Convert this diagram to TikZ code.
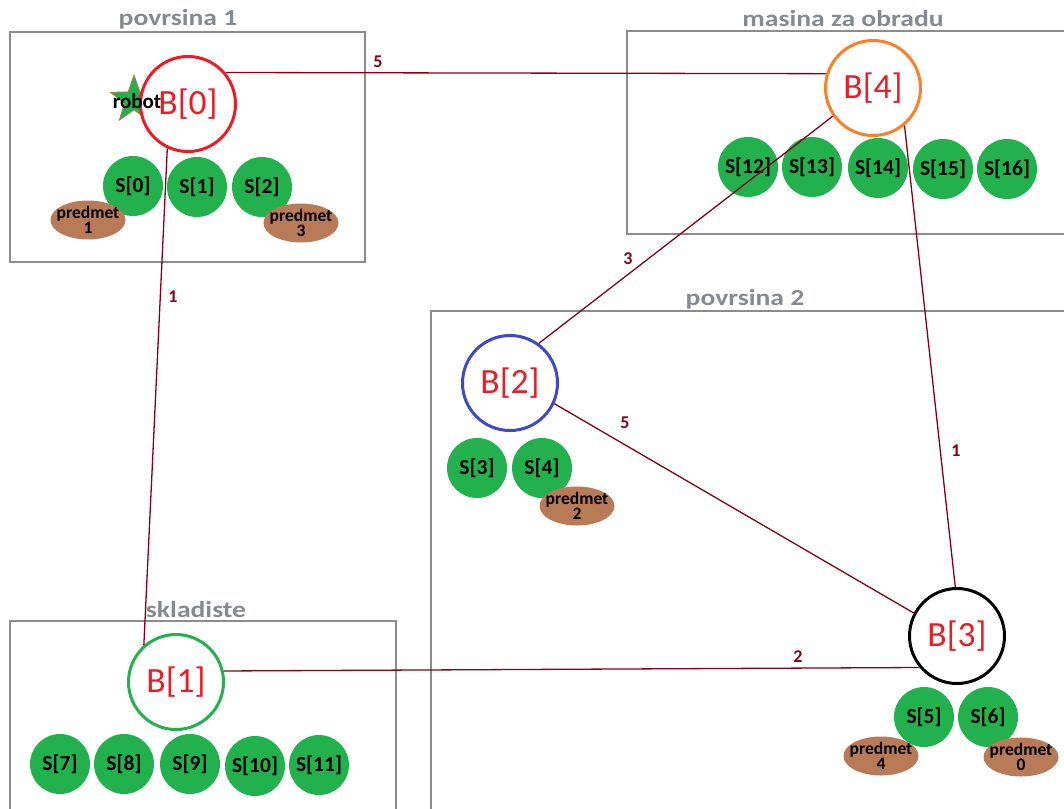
\documentclass[tikz,border=0pt]{standalone}
\usepackage{fontspec}
\setmainfont{Carlito}
\newfontfamily\titlefont[FakeStretch=1.2]{Carlito}
\usetikzlibrary{shapes.geometric}

\definecolor{slotgreen}{HTML}{22B14C}
\definecolor{itembrown}{HTML}{B97A57}
\definecolor{labelred}{HTML}{ED1C24}
\definecolor{edgered}{HTML}{880015}
\definecolor{framegray}{HTML}{8C8C8C}
\definecolor{titlegray}{HTML}{858A90}
\definecolor{borange}{HTML}{FF7F27}
\definecolor{bblue}{HTML}{3F48CC}

\tikzset{
  area/.style={draw=framegray, line width=1.4pt},
  areatitle/.style={font=\titlefont\fontsize{23}{26}\selectfont\bfseries, text=titlegray, anchor=base, inner sep=0pt},
  base/.style={circle, draw=#1, fill=white, line width=3pt, minimum size=95pt, inner sep=0pt,
               text=labelred, font=\fontsize{35.5}{38}\selectfont},
  slot/.style={circle, fill=slotgreen, minimum size=60pt, inner sep=0pt,
               font=\fontsize{21.5}{24}\selectfont\bfseries},
  item/.style={ellipse, fill=itembrown, minimum width=75pt, minimum height=39pt, inner sep=0pt},
  itemtext/.style={align=center, inner sep=0pt, font=\fontsize{17.5}{15.5}\selectfont\bfseries},
  link/.style={draw=edgered, line width=1.3pt},
  weight/.style={text=edgered, font=\fontsize{18}{20}\selectfont\bfseries, inner sep=0pt},
}

\begin{document}
\begin{tikzpicture}[x=1pt, y=-1pt]
\useasboundingbox (0,0) rectangle (1064,808);

% areas and their titles
\draw[area] (10,32) rectangle (365,262);
\draw[area] (627,31) rectangle (1075,234);
\draw[area] (431,311) rectangle (1075,820);
\draw[area] (10,621) rectangle (396,820);
\node[areatitle] (t1) at (178,26) {povrsina 1};
\node[areatitle] (t4) at (843,27) {masina za obradu};
\node[areatitle] (t2) at (745,305) {povrsina 2};
\node[areatitle] (ts) at (196,617) {skladiste};

% slots
\node[slot] (S0) at (133,186) {S[0]};
\node[slot] (S1) at (197,187) {S[1]};
\node[slot] (S2) at (262,187) {S[2]};
\node[slot] (S12) at (748,167) {S[12]};
\node[slot] (S13) at (812,167) {S[13]};
\node[slot] (S14) at (878,168) {S[14]};
\node[slot] (S15) at (943,169) {S[15]};
\node[slot] (S16) at (1007,169) {S[16]};
\node[slot] (S3) at (477,468) {S[3]};
\node[slot] (S4) at (542,468) {S[4]};
\node[slot] (S5) at (924,717) {S[5]};
\node[slot] (S6) at (988,717) {S[6]};
\node[slot] (S7) at (60,764) {S[7]};
\node[slot] (S8) at (124,764) {S[8]};
\node[slot] (S9) at (190,764) {S[9]};
\node[slot] (S10) at (255,766) {S[10]};
\node[slot] (S11) at (319,765) {S[11]};

% items lying on slots
\node[item] (P1) at (88,220) {};
\node[itemtext] (P1t) at (P1) {predmet\\1};
\node[item] (P3) at (301,223) {};
\node[itemtext] (P3t) at (P3) {predmet\\3};
\node[item] (P2) at (577,506) {};
\node[itemtext] (P2t) at (P2) {predmet\\2};
\node[item] (P4) at (881,756) {};
\node[itemtext] (P4t) at (P4) {predmet\\4};
\node[item] (P0) at (1021,757) {};
\node[itemtext] (P0t) at (P0) {predmet\\0};

% robot marker
\node[star, star points=5, star point ratio=2.5, minimum size=50pt, inner sep=0pt,
      fill=slotgreen, draw=itembrown, line width=0.8pt] (R) at (134,100) {};

% bases
\node[base=labelred] (B0) at (188,104) {B[0]};
\node[base=borange]  (B4) at (873,88)  {B[4]};
\node[base=bblue]    (B2) at (510,383) {B[2]};
\node[base=black]    (B3) at (957,636) {B[3]};
\node[base=slotgreen] (B1) at (176,682) {B[1]};

\node[font=\fontsize{21}{24}\selectfont\bfseries, inner sep=0pt] (Rl) at (137,101) {robot};

% connections between bases
\draw[link] (B0.40)  -- (B4.163);
\draw[link] (B0.245) -- (B1.131);
\draw[link] (B4.215) -- (B2.54);
\draw[link] (B4.310) -- (B3.92);
\draw[link] (B2.335) -- (B3.152);
\draw[link] (B1.13)  -- (B3.220);

% weights
\node[weight] (w04) at (378,62)  {5};
\node[weight] (w01) at (173,297) {1};
\node[weight] (w42) at (628,259) {3};
\node[weight] (w43) at (956,451) {1};
\node[weight] (w23) at (625,423) {5};
\node[weight] (w13) at (798,657) {2};
\end{tikzpicture}
\end{document}
